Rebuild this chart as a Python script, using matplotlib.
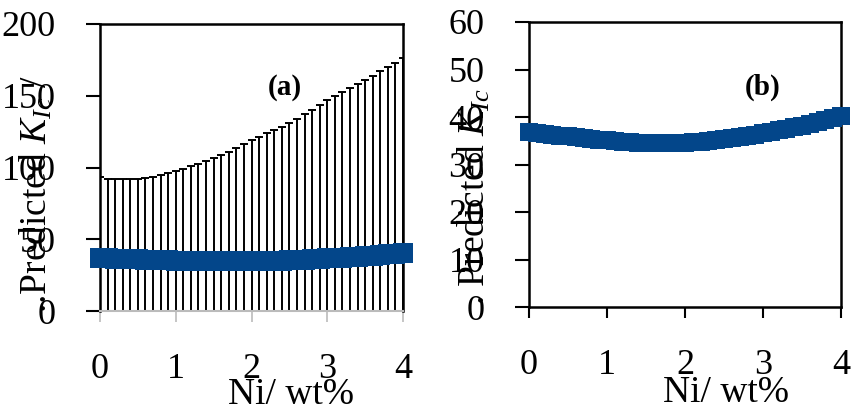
import matplotlib
matplotlib.use("Agg")
import matplotlib.pyplot as plt
import numpy as np

plt.rcParams['font.family'] = ['Liberation Serif', 'DejaVu Serif']
plt.rcParams['mathtext.fontset'] = 'custom'
plt.rcParams['mathtext.rm'] = 'Liberation Serif'
plt.rcParams['mathtext.it'] = 'Liberation Serif:italic'

# Ni content / wt%
ni = [0.0, 0.1, 0.2, 0.3, 0.4, 0.5, 0.6, 0.7, 0.8, 0.9,
      1.0, 1.1, 1.2, 1.3, 1.4, 1.5, 1.6, 1.7, 1.8, 1.9,
      2.0, 2.1, 2.2, 2.3, 2.4, 2.5, 2.6, 2.7, 2.8, 2.9,
      3.0, 3.1, 3.2, 3.3, 3.4, 3.5, 3.6, 3.7, 3.8, 3.9, 4.0]

# predicted KIc
kic = [36.8, 36.6, 36.5, 36.3, 36.1, 36.0, 35.8, 35.6, 35.4, 35.2,
       35.1, 34.9, 34.8, 34.7, 34.6, 34.5, 34.5, 34.5, 34.5, 34.6,
       34.6, 34.7, 34.8, 34.9, 35.1, 35.3, 35.5, 35.7, 36.0, 36.3,
       36.6, 36.9, 37.2, 37.5, 37.9, 38.2, 38.6, 39.0, 39.4, 39.8, 40.2]

# upper end of the error bars in panel (a)
upper = [93.5, 91.7, 91.7, 91.7, 91.7, 91.8, 92.5, 93.3, 94.5, 96.0,
         97.8, 99.3, 100.9, 102.6, 104.4, 106.3, 108.6, 111.0, 113.5, 116.3,
         119.3, 121.5, 123.7, 126.0, 128.4, 130.8, 133.9, 137.0, 140.1, 143.4,
         146.7, 149.5, 152.3, 155.2, 158.1, 161.0, 164.0, 167.0, 170.0, 173.0, 176.0]

blue = '#03468a'
fs = 26

fig = plt.figure(figsize=(8.52, 4.12), dpi=100)
ax1 = fig.add_axes([100/852, 101/412, 303/852, 287/412])
ax2 = fig.add_axes([529/852, 105/412, 312/852, 285/412])

err = np.array(upper) - np.array(kic)
ax1.errorbar(ni, kic, yerr=err, fmt='none', ecolor='black', elinewidth=1.4,
             capsize=3, capthick=1.4, zorder=2)
ax1.plot(ni, kic, 's', color=blue, markersize=14, markeredgewidth=0, zorder=3, clip_on=False)
ax1.set_xlim(0, 4)
ax1.set_ylim(0, 200)
ax1.set_yticks([0, 50, 100, 150, 200])
ax1.set_xticks([0, 1, 2, 3, 4])
ax1.tick_params(axis='y', direction='out', length=10, width=1.5, pad=22, labelsize=fs)
ax1.tick_params(axis='x', direction='out', length=8, width=1.2, color='#bbbbbb',
                pad=22, labelsize=fs)
for s in ['left', 'top', 'right']:
    ax1.spines[s].set_linewidth(1.8)
ax1.spines['bottom'].set_color('#bbbbbb')
ax1.spines['bottom'].set_linewidth(1.5)
ax1.set_xlabel('Ni/ wt%', fontsize=27, labelpad=0)
ax1.xaxis.set_label_coords(0.63, -0.23)
ax1.text(0.61, 0.78, '(a)', transform=ax1.transAxes, fontsize=21, fontweight='bold',
         ha='center', va='center')

ax2.plot(ni, kic, 's', color=blue, markersize=13, markeredgewidth=0, zorder=3, clip_on=False)
ax2.set_xlim(0, 4)
ax2.set_ylim(0, 60)
ax2.set_yticks([0, 10, 20, 30, 40, 50, 60])
ax2.set_xticks([0, 1, 2, 3, 4])
ax2.tick_params(axis='y', direction='out', length=10, width=1.5, pad=22, labelsize=fs)
ax2.tick_params(axis='x', direction='out', length=8, width=1.5, pad=22, labelsize=fs)
for s in ax2.spines.values():
    s.set_linewidth(1.8)
ax2.set_xlabel('Ni/ wt%', fontsize=27, labelpad=0)
ax2.xaxis.set_label_coords(0.63, -0.24)
ax2.text(0.75, 0.77, '(b)', transform=ax2.transAxes, fontsize=21, fontweight='bold',
         ha='center', va='center')

# y labels overlapping the tick labels, as in the original
fig.text(36/852, 1 - 313/412, '..Predicted $\\mathit{K}_{Ic}$ /', rotation=90,
         fontsize=27, ha='center', va='bottom')
fig.text(474/852, 1 - 305/412, '. Predicted $\\mathit{K}_{Ic}$', rotation=90,
         fontsize=27, ha='center', va='bottom')

fig.savefig('out.png', dpi=100)
